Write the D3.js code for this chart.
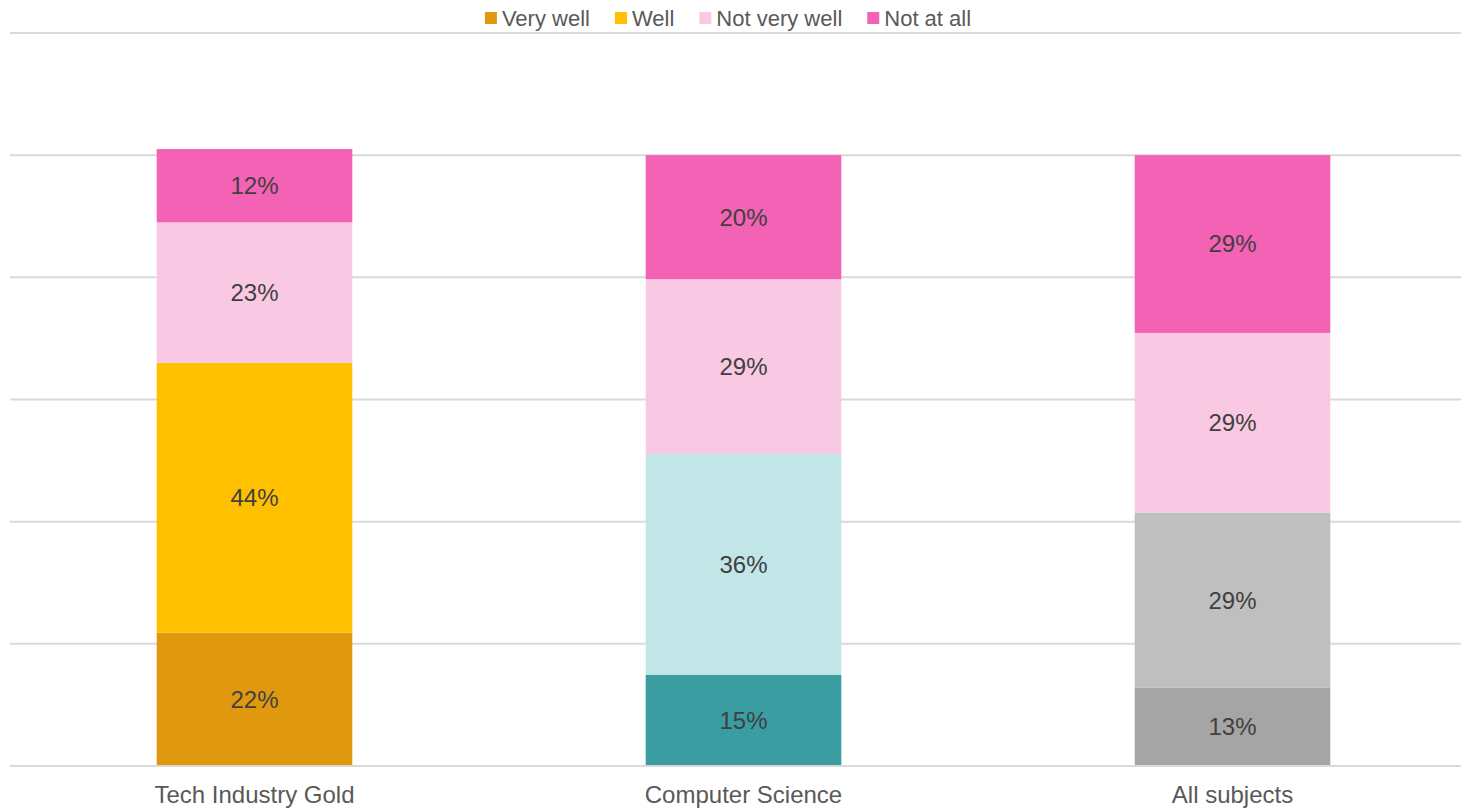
<!DOCTYPE html>
<html>
<head>
<meta charset="utf-8">
<script src="https://cdn.jsdelivr.net/npm/d3@7"></script>
<style>
  body { margin: 0; background: #fff; }
  svg { display: block; font-family: "Liberation Sans", Arial, sans-serif; }
</style>
</head>
<body>
<svg id="chart" width="1461" height="808"></svg>
<script>
// data (percent of respondents)
const categories = ["Tech Industry Gold", "Computer Science", "All subjects"];
const seriesNames = ["Very well", "Well", "Not very well", "Not at all"];
const veryWell   = [21.8, 14.9, 12.8];
const well       = [44.2, 36.2, 28.7];
const notVeryWell = [23.0, 28.6, 29.4];
const notAtAll   = [12.0, 20.3, 29.1];
const yTicks = [0, 20, 40, 60, 80, 100, 120];

// bottom two segments change colour per bar, top two are shared
const barColors = [
  ["#E0990E", "#FFC000", "#F9C9E4", "#F462B5"],
  ["#3A9DA2", "#C2E6E7", "#F9C9E4", "#F462B5"],
  ["#A5A5A5", "#BFBFBF", "#F9C9E4", "#F462B5"]
];
const legendColors = ["#E0990E", "#FFC000", "#F9C9E4", "#F462B5"];

const rows = categories.map((c, i) => ({
  cat: c,
  "Very well": veryWell[i],
  "Well": well[i],
  "Not very well": notVeryWell[i],
  "Not at all": notAtAll[i]
}));

const margin = {top: 33, right: -16, bottom: 42, left: 10},
  width = 1461 - margin.left - margin.right,
  height = 808 - margin.top - margin.bottom;

const svg = d3.select("#chart");
const g = svg.append("g")
  .attr("transform", "translate(" + margin.left + "," + margin.top + ")");

const x = d3.scaleBand()
  .domain(categories)
  .range([0, width])
  .paddingInner(0.6)
  .paddingOuter(0.3);

const y = d3.scaleLinear()
  .domain([0, 120])
  .range([height, 0]);

// gridlines
g.append("g")
  .selectAll("line")
  .data(yTicks)
  .join("line")
    .attr("x1", 0)
    .attr("x2", width)
    .attr("y1", d => y(d))
    .attr("y2", d => y(d))
    .attr("stroke", "#D9D9D9")
    .attr("stroke-width", 2);

const stacked = d3.stack().keys(seriesNames)(rows);

const fmt = v => Math.round(v) + "%";

stacked.forEach((layer, si) => {
  const lg = g.append("g");
  lg.selectAll("rect")
    .data(layer)
    .join("rect")
      .attr("x", d => x(d.data.cat))
      .attr("width", x.bandwidth())
      .attr("y", d => y(d[1]))
      .attr("height", d => y(d[0]) - y(d[1]))
      .attr("fill", (d, i) => barColors[i][si]);
  lg.selectAll("text")
    .data(layer)
    .join("text")
      .attr("x", d => x(d.data.cat) + x.bandwidth() / 2)
      .attr("y", d => (y(d[0]) + y(d[1])) / 2)
      .attr("dy", "0.35em")
      .attr("text-anchor", "middle")
      .attr("font-size", 24)
      .attr("fill", "#404040")
      .text(d => fmt(d[1] - d[0]));
});

// bottom axis line + category labels
g.append("line")
  .attr("x1", 0).attr("x2", width)
  .attr("y1", y(0)).attr("y2", y(0))
  .attr("stroke", "#D9D9D9")
  .attr("stroke-width", 2);

g.append("g")
  .selectAll("text")
  .data(categories)
  .join("text")
    .attr("x", d => x(d) + x.bandwidth() / 2)
    .attr("y", height + 29)
    .attr("dy", "0.35em")
    .attr("text-anchor", "middle")
    .attr("font-size", 24)
    .attr("fill", "#595959")
    .text(d => d);

// legend, centred over the plot
const legend = svg.append("g");
let lx = 0;
seriesNames.forEach((name, i) => {
  const item = legend.append("g").attr("transform", "translate(" + lx + ",0)");
  item.append("rect")
    .attr("x", 0).attr("y", -6)
    .attr("width", 12).attr("height", 12)
    .attr("fill", legendColors[i]);
  const t = item.append("text")
    .attr("x", 17)
    .attr("dy", "0.35em")
    .attr("font-size", 22)
    .attr("fill", "#595959")
    .text(name);
  lx += 17 + t.node().getComputedTextLength() + (i < seriesNames.length - 1 ? 25 : 0);
});
legend.attr("transform", "translate(" + (728 - lx / 2) + ",18)");
</script>
</body>
</html>
